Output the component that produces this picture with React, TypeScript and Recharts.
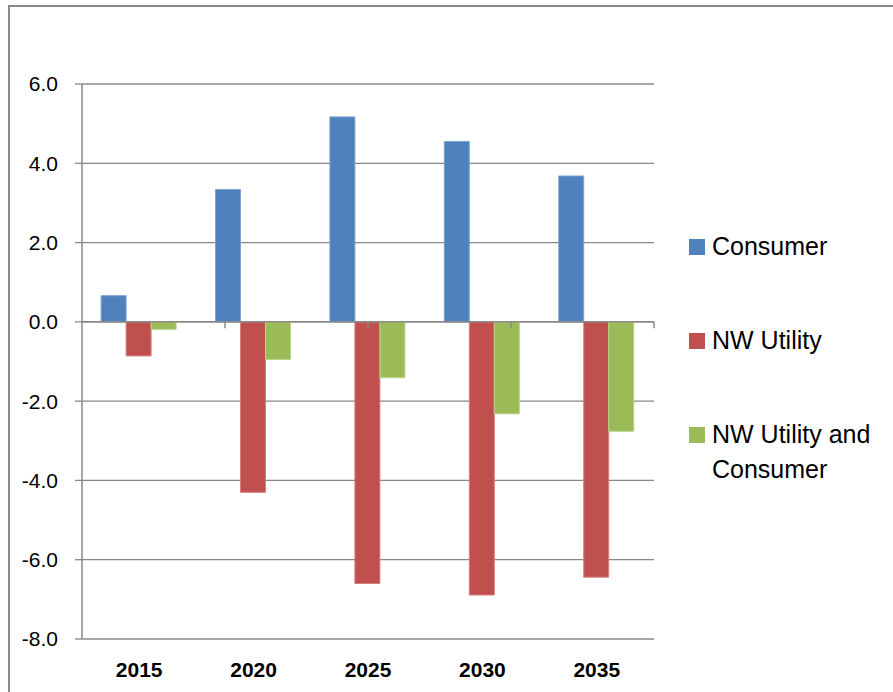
import React from "react"
import { BarChart, Bar, XAxis, YAxis, CartesianGrid, ReferenceLine } from "recharts"

const years = ["2015", "2020", "2025", "2030", "2035"]
const consumer = [0.66, 3.34, 5.17, 4.55, 3.68]
const nwUtility = [-0.86, -4.3, -6.6, -6.89, -6.44]
const nwUtilityConsumer = [-0.19, -0.95, -1.41, -2.32, -2.76]
const yTicks = [-8, -6, -4, -2, 0, 2, 4, 6]
// category boundaries where the zero axis has its small tick marks
const boundaries = [1, 2, 3, 4, 5]

const series = [
  { key: "consumer", name: "Consumer", fill: "#4F81BD", stroke: "#7EA3D2" },
  { key: "nwUtility", name: "NW Utility", fill: "#C0504D", stroke: "#D6817E" },
  { key: "nwUtilityConsumer", name: "NW Utility and Consumer", fill: "#9BBB59", stroke: "#BBD38A" },
]

const data = years.map((year, i) => ({
  year,
  consumer: consumer[i],
  nwUtility: nwUtility[i],
  nwUtilityConsumer: nwUtilityConsumer[i],
}))

const gray = "#888888"
const font = "'Liberation Sans', Arial, sans-serif"

function ChartLegend() {
  return (
    <div
      style={{
        position: "absolute",
        left: 689,
        top: 229,
        width: 200,
        display: "flex",
        flexDirection: "column",
        gap: 59,
        fontFamily: font,
        fontSize: 25,
        lineHeight: "35px",
        color: "#000",
      }}
    >
      {series.map((s) => (
        <div key={s.key} style={{ display: "flex", alignItems: "flex-start" }}>
          <span
            style={{
              width: 16,
              height: 16,
              marginTop: 10,
              marginRight: 7,
              flexShrink: 0,
              background: s.fill,
            }}
          />
          <span style={{ width: 172 }}>{s.name}</span>
        </div>
      ))}
    </div>
  )
}

export default function App() {
  return (
    <div
      style={{
        position: "fixed",
        left: 0,
        top: 0,
        width: 893,
        height: 692,
        overflow: "hidden",
        background: "#fff",
        fontFamily: font,
      }}
    >
      <div
        style={{
          position: "absolute",
          left: 8,
          top: 5,
          width: 900,
          height: 700,
          border: `2px solid ${gray}`,
        }}
      />
      <div style={{ position: "absolute", left: 0, top: 0 }}>
        <BarChart
          width={893}
          height={692}
          data={data}
          margin={{ top: 84, right: 239, left: 0, bottom: 0 }}
          barCategoryGap="16.7%"
          barGap={0}
        >
          <CartesianGrid horizontal vertical={false} stroke={gray} strokeWidth={1.3} />
          <XAxis
            dataKey="year"
            height={53}
            axisLine={false}
            tickLine={false}
            tickSize={0}
            tickMargin={23}
            tick={{ fill: "#000", fontSize: 21, fontWeight: "bold", fontFamily: font }}
          />
          <XAxis xAxisId="bound" type="number" domain={[0, 5]} hide />
          <YAxis
            width={82}
            domain={[-8, 6]}
            ticks={yTicks}
            interval={0}
            tickFormatter={(v: number) => v.toFixed(1)}
            axisLine={{ stroke: gray, strokeWidth: 1.5 }}
            tickLine={{ stroke: gray, strokeWidth: 1.3 }}
            tickSize={7}
            tickMargin={17}
            tick={{ fill: "#000", fontSize: 21, fontFamily: font }}
          />
          {series.map((s) => (
            <Bar
              key={s.key}
              dataKey={s.key}
              name={s.name}
              fill={s.fill}
              stroke={s.stroke}
              strokeWidth={1}
              isAnimationActive={false}
            />
          ))}
          <ReferenceLine y={0} stroke={gray} strokeWidth={1.5} />
          {boundaries.map((b) => (
            <ReferenceLine
              key={b}
              xAxisId="bound"
              segment={[
                { x: b, y: 0 },
                { x: b, y: -0.16 },
              ]}
              stroke={gray}
              strokeWidth={1.5}
            />
          ))}
        </BarChart>
      </div>
      <ChartLegend />
    </div>
  )
}
